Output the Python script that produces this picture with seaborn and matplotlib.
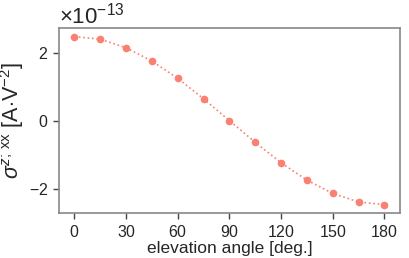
import numpy as np
import pandas as pd
import matplotlib
matplotlib.use("Agg")
import matplotlib.pyplot as plt
import seaborn as sns

# Datos
angulos = [0, 15, 30, 45, 60, 75, 90, 105, 120, 135, 150, 165, 180]
sigma = [2.47, 2.39, 2.14, 1.75, 1.24, 0.64, 0.0, -0.64, -1.24, -1.75, -2.14, -2.39, -2.47]
escala = 1e-13

df = pd.DataFrame({"angle": angulos, "sigma": np.array(sigma) * escala})

sns.set_style("ticks")
plt.rcParams['font.family'] = ['Liberation Sans', 'DejaVu Sans']
plt.rcParams['mathtext.fontset'] = 'custom'
plt.rcParams['mathtext.rm'] = 'Liberation Sans'
plt.rcParams['mathtext.it'] = 'Liberation Sans:italic'
plt.rcParams['axes.formatter.use_mathtext'] = True

fig = plt.figure(figsize=(4.09, 2.58), dpi=100)
ax = fig.add_axes([0.144, 0.174, 0.834, 0.717])

sns.lineplot(data=df, x="angle", y="sigma", ax=ax, color="#fa8072",
             linestyle=":", marker="o", markersize=5.5, markeredgewidth=0,
             linewidth=1.2)

ax.set_xticks([0, 30, 60, 90, 120, 150, 180])
ax.set_yticks(np.array([-2, 0, 2]) * escala)
ax.tick_params(labelsize=11.5, color="#444444", length=4, width=1,
               bottom=True, left=True, direction="out")
ax.yaxis.get_offset_text().set_fontsize(16)
for s in ax.spines.values():
    s.set_color("#888888")
    s.set_linewidth(1.2)

ax.set_xlabel("elevation angle [deg.]", fontsize=12.5, labelpad=1)
ax.set_ylabel(r"$\sigma^{z;\,\mathrm{xx}}$ [A$\cdot$V$^{-2}$]", fontsize=15.5, labelpad=2)

fig.savefig("out.png", dpi=100)
